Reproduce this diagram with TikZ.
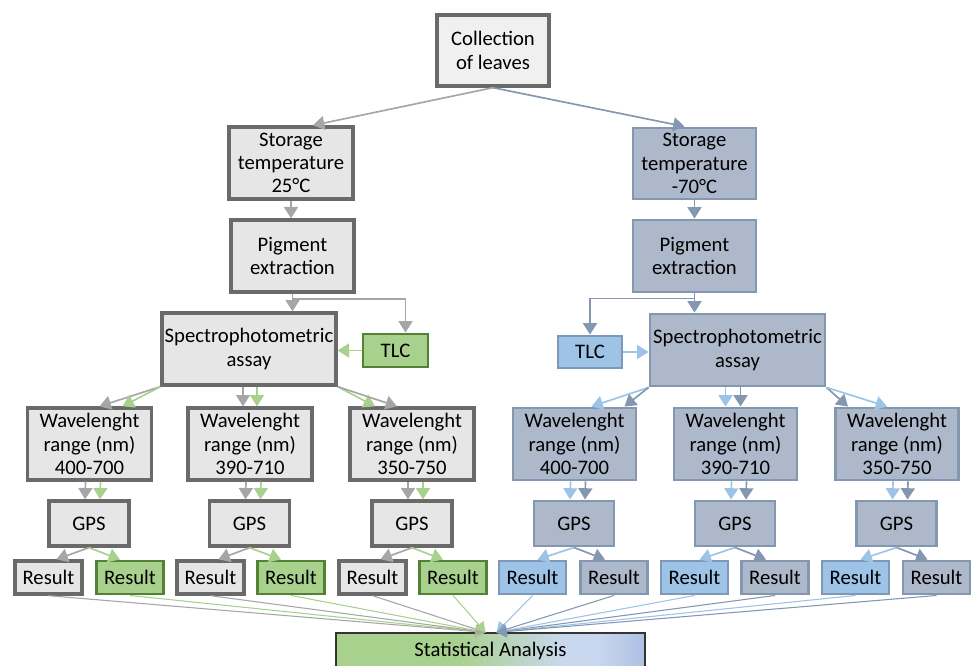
\documentclass[tikz,border=0pt]{standalone}
\usepackage{fontspec}
\setmainfont{Carlito}
\usetikzlibrary{arrows.meta,calc}
\definecolor{gfill}{HTML}{E7E6E6}
\definecolor{cfill}{HTML}{F0F0F0}
\definecolor{gdraw}{HTML}{6A6A6A}
\definecolor{grfill}{HTML}{A9D18E}
\definecolor{grdraw}{HTML}{548235}
\definecolor{sfill}{HTML}{ADB9CA}
\definecolor{sdraw}{HTML}{8497B0}
\definecolor{bfill}{HTML}{9DC3E6}
\definecolor{bdraw}{HTML}{7F98B8}
\definecolor{garr}{HTML}{A6A6A6}
\definecolor{grarr}{HTML}{A9D18E}
\definecolor{barr}{HTML}{9DC3E6}
\definecolor{sarr}{HTML}{8497B0}
\definecolor{stpale}{HTML}{CAD8EF}
\definecolor{stblue}{HTML}{ADC0E4}
\pgfdeclarehorizontalshading{statshade}{100bp}{color(0bp)=(grfill); color(45bp)=(grfill); color(62bp)=(stpale); color(67bp)=(stpale); color(75bp)=(stblue); color(100bp)=(stblue)}
\begin{document}
\begin{tikzpicture}[x=0.75pt,y=-0.75pt,
  font=\fontsize{15.5}{17.4}\selectfont,
  box/.style={rectangle, inner sep=0pt, align=center, text=black},
  wh/.style 2 args={minimum width=#1*0.75pt, minimum height=#2*0.75pt},
  gbox/.style={box, fill=gfill, draw=gdraw, line width=2.5pt},
  cbox/.style={box, fill=cfill, draw=gdraw, line width=2.5pt},
  grbox/.style={box, fill=grfill, draw=grdraw, line width=2.2pt},
  sbox/.style={box, fill=sfill, draw=sdraw, line width=2.2pt},
  bbox/.style={box, fill=bfill, draw=bdraw, line width=2.2pt},
  arr/.style={line width=1.25pt, -{Triangle[width=10.5pt,length=8.5pt]}},
  thinarr/.style={line width=0.8pt, -{Triangle[width=9pt,length=7.5pt]}}]
\useasboundingbox (0,0) rectangle (973,666);
\clip (0,0) rectangle (973,666);

% top
\node[cbox, wh={112}{71}] (col) at (493,50.5) {Collection\\of leaves};
\node[gbox, wh={124}{72}] (stL) at (291,163) {Storage\\temperature\\25°C};
\node[sbox, wh={123}{71}] (stR) at (694.5,163.5) {Storage\\temperature\\-70°C};
\node[gbox, wh={123}{72}] (pgL) at (292.5,256) {Pigment\\extraction};
\node[sbox, wh={123}{72}] (pgR) at (694.5,256) {Pigment\\extraction};
\node[gbox, wh={174}{72}] (spL) at (249,349) {Spectrophotometric\\assay};
\node[grbox, wh={65}{33}] (tlcL) at (395.5,350.5) {TLC};
\node[sbox, wh={175}{72}] (spR) at (737.5,350) {Spectrophotometric\\assay};
\node[bbox, wh={64}{32}] (tlcR) at (590,352) {TLC};

% wavelength
\foreach \i/\x/\lab in {1/89.5/400-700,2/250/390-710,3/412/350-750}
  \node[gbox, wh={124}{72}] (wL\i) at (\x,444) {Wavelenght\\range (nm)\\\lab};
\foreach \i/\x/\lab in {1/574.5/400-700,2/735.5/390-710,3/897/350-750}
  \node[sbox, wh={123}{72}] (wR\i) at (\x,444) {Wavelenght\\range (nm)\\\lab};

% GPS
\foreach \i/\x in {1/89,2/249.5,3/412}
  \node[gbox, wh={80}{45}] (gL\i) at (\x,523.5) {GPS};
\foreach \i/\x in {1/574,2/735,3/896.5}
  \node[sbox, wh={80}{45}] (gR\i) at (\x,523.5) {GPS};

% results
\foreach \i/\xa/\xb in {1/48.5/130,2/210.5/291,3/372.5/453}{
  \node[gbox, wh={67}{33}] (rLa\i) at (\xa,577.5) {Result};
  \node[grbox, wh={67}{33}] (rLb\i) at (\xb,577.5) {Result};
}
\foreach \i/\xa/\xb in {1/532.5/614,2/694.5/775,3/855.5/936.5}{
  \node[bbox, wh={67}{33}] (rRa\i) at (\xa,577.5) {Result};
  \node[sbox, wh={67}{33}] (rRb\i) at (\xb,577.5) {Result};
}

% statistical analysis
\node[box, wh={309}{35}, shade, shading=statshade, draw=black!80, line width=1pt] (stat) at (490.5,650.5) {Statistical Analysis};

% connectors top
\draw[arr, draw=garr] (col.south) -- ($(stL.north)+(22,0)$);
\draw[arr, draw=sarr] (col.south) -- ($(stR.north)+(-10,0)$);
\draw[arr, draw=garr] (stL.south) -- (stL.south |- pgL.north);
\draw[arr, draw=sarr] (stR.south) -- (stR.south |- pgR.north);
\draw[arr, draw=garr] (pgL.south) -- (pgL.south |- spL.north);
\draw[arr, draw=garr] (pgL.south) -- ++(0,5) -| ($(tlcL.north)+(10,0)$);
\draw[arr, draw=sarr] (pgR.south) -- (pgR.south |- spR.north);
\draw[arr, draw=sarr] (pgR.south) -- ++(0,5) -| (tlcR.north);
\draw[arr, draw=grarr] (tlcL.west) -- (spL.east |- tlcL.west);
\draw[arr, draw=barr] (tlcR.east) -- (spR.west |- tlcR.east);

% spectro -> wavelength
\draw[arr, draw=garr] (spL.south west) -- ($(wL1.north)+(10,0)$);
\draw[arr, draw=grarr] (spL.south west) -- ($(wL1.north)+(33,0)$);
\draw[arr, draw=garr] ($(spL.south)+(-6,0)$) -- ($(wL2.north)+(-7,0)$);
\draw[arr, draw=grarr] ($(spL.south)+(8,0)$) -- ($(wL2.north)+(7,0)$);
\draw[arr, draw=grarr] (spL.south east) -- ($(wL3.north)+(-37,0)$);
\draw[arr, draw=garr] (spL.south east) -- ($(wL3.north)+(-15,0)$);
\draw[arr, draw=barr] (spR.south west) -- ($(wR1.north)+(17,0)$);
\draw[arr, draw=sarr] (spR.south west) -- ($(wR1.north)+(50,0)$);
\draw[arr, draw=barr] ($(spR.south)+(-12,0)$) -- ($(wR2.north)+(-10,0)$);
\draw[arr, draw=sarr] ($(spR.south)+(3,0)$) -- ($(wR2.north)+(5,0)$);
\draw[arr, draw=sarr] (spR.south east) -- ($(wR3.north)+(-49,0)$);
\draw[arr, draw=barr] (spR.south east) -- ($(wR3.north)+(-10,0)$);

% wavelength -> GPS -> results -> stat
\foreach \i in {1,2,3}{
  \draw[arr, draw=garr] ($(wL\i.south)+(-4,0)$) -- ($(gL\i.north)+(-4,0)$);
  \draw[arr, draw=grarr] ($(wL\i.south)+(11,0)$) -- ($(gL\i.north)+(11,0)$);
  \draw[arr, draw=barr] ($(wR\i.south)+(-4,0)$) -- ($(gR\i.north)+(-4,0)$);
  \draw[arr, draw=sarr] ($(wR\i.south)+(11,0)$) -- ($(gR\i.north)+(11,0)$);
  \draw[arr, draw=garr] (gL\i.south) -- ($(rLa\i.north)+(8,0)$);
  \draw[arr, draw=grarr] (gL\i.south) -- ($(rLb\i.north)+(-10,0)$);
  \draw[arr, draw=barr] (gR\i.south) -- ($(rRa\i.north)+(5,0)$);
  \draw[arr, draw=sarr] (gR\i.south) -- ($(rRb\i.north)+(-9,0)$);
  \draw[thinarr, draw=garr] (rLa\i.south) -- ($(stat.north)+(-5,0)$);
  \draw[thinarr, draw=grarr] (rLb\i.south) -- ($(stat.north)+(-5,0)$);
  \draw[thinarr, draw=barr] (rRa\i.south) -- ($(stat.north)+(6,0)$);
  \draw[thinarr, draw=sarr] (rRb\i.south) -- ($(stat.north)+(6,0)$);
}
\end{tikzpicture}
\end{document}
